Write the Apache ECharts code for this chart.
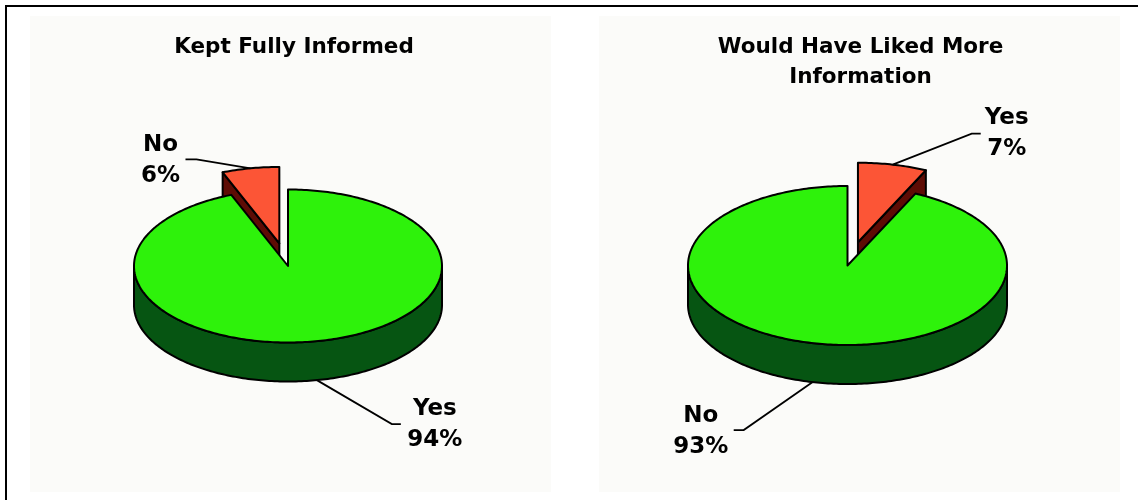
<!DOCTYPE html>
<html><head><meta charset="utf-8">
<script src="https://cdn.jsdelivr.net/npm/echarts@6/dist/echarts.min.js"></script>
<style>html,body{margin:0;padding:0;background:#fff}#c{width:1138px;height:500px}</style>
</head><body><div id="c"></div>
<script>
// ---- data ----
const leftTitle = 'Kept Fully Informed';
const leftCategories = ['Yes', 'No'];
const leftValues = [94, 6];
const rightTitle = 'Would Have Liked More\nInformation';
const rightCategories = ['Yes', 'No'];
const rightValues = [7, 93];

// ---- styles / layout ----
const FONT = "'DejaVu Sans', Verdana, sans-serif";
const GREEN = { top: '#2ef20b', side: '#065512' };
const RED = { top: '#fc5536', side: '#5e0c05' };

const pies = [
  { title: leftTitle, cats: leftCategories, values: leftValues,
    cx: 288, cy: 266, rx: 154, ry: 76.5, depth: 39,
    colors: [GREEN, RED], explode: [0, 0.3],
    // [kneeDx, kneeDy, len2, textDx, textDy]
    labels: [[75, 44, 9, 34, 0], [-54, -9, -11, -25, 1]],
    titleX: 294 },
  { title: rightTitle, cats: rightCategories, values: rightValues,
    cx: 847.5, cy: 265.5, rx: 159.5, ry: 79.5, depth: 39,
    colors: [RED, GREEN], explode: [0.3, 0],
    labels: [[79, -31, 9, 26, 0], [-69, 48, -10, -33, 1]],
    titleX: 860.5 }
];

const rad = d => d * Math.PI / 180;

function makeRender(p) {
  const total = p.values.reduce((a, b) => a + b, 0);
  const cum = []; let acc = 0;
  p.values.forEach(v => { cum.push(acc); acc += v; });
  return function (params, api) {
    const i = params.dataIndex;
    const v = api.value(0);
    const start = 90 - cum[i] / total * 360;
    const end = start - v / total * 360;
    const a0 = end, a1 = start;
    const mid = (a0 + a1) / 2;
    const t = p.explode[i];
    const ox = t * p.rx * Math.cos(rad(mid)), oy = -t * p.ry * Math.sin(rad(mid));
    const cx = p.cx + ox, cy = p.cy + oy;
    const pt = (a, dz) => [cx + p.rx * Math.cos(rad(a)), cy - p.ry * Math.sin(rad(a)) + (dz || 0)];
    const arc = (s, e, dz) => {
      const n = Math.max(2, Math.ceil(Math.abs(e - s)));
      const out = [];
      for (let k = 0; k <= n; k++) out.push(pt(s + (e - s) * k / n, dz));
      return out;
    };
    const col = p.colors[i];
    const back = Math.sin(rad(mid));
    const zb = Math.round((1 - back) * 50);
    const edge = { stroke: '#000', lineWidth: 2, lineJoin: 'round' };
    const children = [];
    for (let k = -2; k <= 2; k++) {
      const s = Math.max(a0, 180 + 360 * k), e = Math.min(a1, 360 + 360 * k);
      if (e > s) {
        children.push({ type: 'polygon', z2: zb,
          shape: { points: arc(s, e, 0).concat(arc(e, s, p.depth)) },
          style: Object.assign({ fill: col.side }, edge) });
      }
    }
    const face = a => ({ type: 'polygon', z2: zb + 1,
      shape: { points: [[cx, cy], pt(a, 0), pt(a, p.depth), [cx, cy + p.depth]] },
      style: Object.assign({ fill: col.side }, edge) });
    if (Math.cos(rad(a0)) > 0.01) children.push(face(a0));
    if (Math.cos(rad(a1)) < -0.01) children.push(face(a1));
    children.push({ type: 'polygon', z2: zb + 2,
      shape: { points: [[cx, cy]].concat(arc(a0, a1, 0)) },
      style: Object.assign({ fill: col.top }, edge) });
    // label + leader
    const anchor = pt(mid, back < 0 ? p.depth : 0);
    const L = p.labels[i];
    const knee = [anchor[0] + L[0], anchor[1] + L[1]];
    const endp = [knee[0] + L[2], knee[1]];
    children.push({ type: 'polyline', z2: 300,
      shape: { points: [anchor, knee, endp] },
      style: { stroke: '#000', lineWidth: 1.8, fill: null } });
    children.push({ type: 'text', z2: 301,
      style: { text: p.cats[i] + '\n' + Math.round(v / total * 100) + '%',
        x: endp[0] + L[3], y: endp[1] + L[4], align: 'center', verticalAlign: 'middle',
        fontFamily: FONT, fontWeight: 'bold', fontSize: 23, lineHeight: 31, fill: '#000' } });
    return { type: 'group', children };
  };
}

const chart = echarts.init(document.getElementById('c'), null, { renderer: 'canvas' });
chart.setOption({
  animation: false,
  backgroundColor: '#ffffff',
  graphic: [
    { type: 'rect', z: -10, silent: true, shape: { x: 30, y: 16, width: 521, height: 476 }, style: { fill: '#fbfbf9' } },
    { type: 'rect', z: -10, silent: true, shape: { x: 599, y: 16, width: 521, height: 476 }, style: { fill: '#fbfbf9' } },
    { type: 'rect', z: 10, silent: true, shape: { x: 6, y: 6, width: 1140, height: 510 }, style: { fill: null, stroke: '#000', lineWidth: 2 } },
    ...pies.map(p => ({ type: 'text', z: 10, silent: true, x: p.titleX, y: 32,
      style: { text: p.title, align: 'center', verticalAlign: 'top', fontFamily: FONT, fontWeight: 'bold',
        fontSize: 21.5, lineHeight: 30, fill: '#000' } }))
  ],
  series: pies.map(p => ({
    type: 'custom',
    coordinateSystem: 'none',
    renderItem: makeRender(p),
    data: p.values.map((v, i) => ({ name: p.cats[i], value: v }))
  }))
});
</script>
</body></html>
